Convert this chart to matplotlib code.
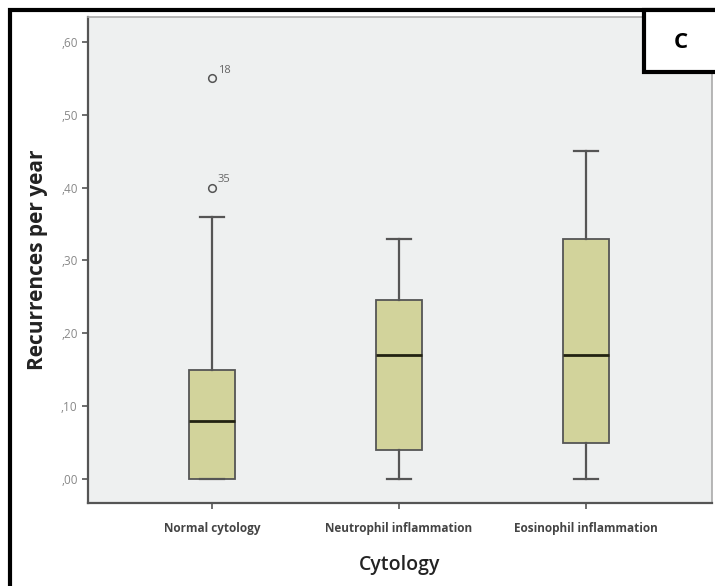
import matplotlib.pyplot as plt
from matplotlib.patches import Rectangle

plt.rcParams['font.family'] = ['Open Sans', 'DejaVu Sans']

# data
groups = ['Normal cytology', 'Neutrophil inflammation', 'Eosinophil inflammation']
whislo = [0.00, 0.00, 0.00]
q1 = [0.00, 0.04, 0.05]
med = [0.08, 0.17, 0.17]
q3 = [0.15, 0.245, 0.33]
whishi = [0.36, 0.33, 0.45]
fliers = [[0.40, 0.55], [], []]
flier_ids = [['35', '18'], [], []]
yticks = [0.0, 0.1, 0.2, 0.3, 0.4, 0.5, 0.6]

stats = []
for i, g in enumerate(groups):
    stats.append({'label': g, 'whislo': whislo[i], 'q1': q1[i], 'med': med[i],
                  'q3': q3[i], 'whishi': whishi[i], 'fliers': fliers[i]})

fig = plt.figure(figsize=(7.15, 5.86), dpi=100)
ax = fig.add_axes([0.1231, 0.1416, 0.8727, 0.8294])
ax.set_facecolor('#eef0f0')

ax.bxp(stats, positions=[1, 2, 3], widths=0.25, patch_artist=True,
       boxprops=dict(facecolor='#d2d39b', edgecolor='#555555', linewidth=1.3),
       medianprops=dict(color='#222211', linewidth=2),
       whiskerprops=dict(color='#555555', linewidth=1.6),
       capprops=dict(color='#555555', linewidth=1.6),
       capwidths=0.13,
       flierprops=dict(marker='o', markersize=5.5, markerfacecolor='none',
                       markeredgecolor='#555555', markeredgewidth=1.1))

for i, ids in enumerate(flier_ids):
    for val, lab in zip(fliers[i], ids):
        ax.annotate(lab, (i + 1, val), xytext=(4, 4), textcoords='offset points',
                    fontsize=8, color='#666666')

ax.set_xlim(0.337, 3.674)
ax.set_ylim(-0.033, 0.634)
ax.set_yticks(yticks)
ax.set_yticklabels([('%.2f' % t).replace('0.', ',') for t in yticks],
                   fontsize=8.5, color='#888888')
ax.set_xticks([1, 2, 3])
ax.set_xticklabels(groups, fontsize=8.5, fontweight='bold', color='#444444')
ax.tick_params(axis='both', direction='out', length=4, width=1.2, color='#555555')
ax.tick_params(axis='x', pad=10)

for s in ax.spines.values():
    s.set_color('#aaaaaa')
    s.set_linewidth(1.2)
ax.spines['left'].set_color('#555555')
ax.spines['bottom'].set_color('#555555')
ax.spines['left'].set_linewidth(1.6)
ax.spines['bottom'].set_linewidth(1.6)

ax.set_ylabel('Recurrences per year', fontsize=15, fontweight='bold',
              color='#222222', labelpad=9)
ax.set_xlabel('Cytology', fontsize=14, fontweight='semibold',
              color='#222222', labelpad=14)

# outer frame and panel label
fig.patches.append(Rectangle((10 / 715, -0.1), 1.2, 1 - 10 / 586 + 0.1,
                             transform=fig.transFigure, fill=False,
                             edgecolor='black', linewidth=3))
fig.patches.append(Rectangle((644 / 715, 1 - 72 / 586), 0.2, 62 / 586,
                             transform=fig.transFigure, facecolor='white',
                             edgecolor='black', linewidth=3))
fig.text(681 / 715, 1 - 42 / 586, 'C', fontsize=16, fontweight='bold',
         ha='center', va='center')

plt.savefig('out.png')
